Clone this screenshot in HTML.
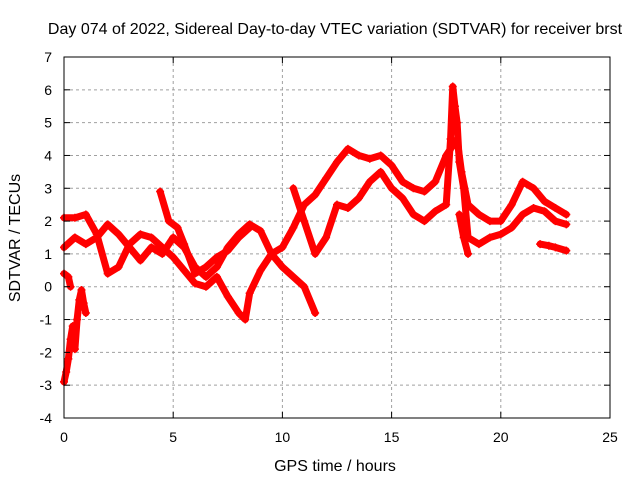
<!DOCTYPE html>
<html><head><meta charset="utf-8"><style>
body{margin:0;background:#fff}
svg{display:block;font-family:"Liberation Sans",sans-serif}
</style></head><body>
<svg id="chart" width="640" height="480">
<text x="335" y="34" font-size="16" text-anchor="middle">Day 074 of 2022, Sidereal Day-to-day VTEC variation (SDTVAR) for receiver brst</text>
<text x="335" y="471" font-size="16" text-anchor="middle">GPS time / hours</text>
<text transform="translate(20,238) rotate(-90)" font-size="16" text-anchor="middle">SDTVAR / TECUs</text>
<g id="grid"></g><g id="marks"></g>
<rect x="64" y="57" width="546" height="361" fill="none" stroke="#000"/>
<g id="ticks"></g>
</svg>
<script>
const xTicks=[0,5,10,15,20,25];
const yTicks=[-4,-3,-2,-1,0,1,2,3,4,5,6,7];
const trackA=[[0,1.2],[0.5,1.5],[1,1.3],[1.5,1.5],[2,1.9],[2.5,1.6],[3,1.2],[3.5,0.8],[4,1.2],[4.5,1.0],[5,1.5],[5.5,1.2],[6,0.6],[6.5,0.3],[7,0.6],[7.5,1.2],[8,1.6],[8.5,1.9],[9,1.7],[9.5,1.0],[10,1.2],[10.5,1.8],[11,2.5],[11.5,2.8],[12,3.3],[12.5,3.8],[13,4.2],[13.5,4.0],[14,3.9],[14.5,4.0],[15,3.7],[15.5,3.2],[16,3.0],[16.5,2.9],[17,3.2],[17.5,4.0],[18,4.5],[18.2,3.5],[18.5,2.5],[19,2.2],[19.5,2.0],[20,2.0],[20.5,2.5],[21,3.2],[21.5,3.0],[22,2.6],[22.5,2.4],[23,2.2]];
const trackB=[[0,-2.9],[0.1,-2.6],[0.2,-2.2],[0.3,-1.6],[0.4,-1.2],[0.5,-1.9],[0.6,-1.0],[0.7,-0.4],[0.8,-0.1],[0.9,-0.5],[1,-0.8]];
const trackC=[[0,2.1],[0.5,2.1],[1,2.2],[1.5,1.6],[2,0.4],[2.5,0.6],[3,1.3],[3.5,1.6],[4,1.5],[4.5,1.2],[5,0.9],[5.5,0.5],[6,0.1],[6.5,0.0],[7,0.3],[7.5,-0.3],[8,-0.8],[8.3,-1.0],[8.5,-0.2],[9,0.5],[9.5,1.0],[10,0.6],[10.5,0.3],[11,0.0],[11.5,-0.8]];
const trackD=[[10.5,3.0],[11,2.0],[11.5,1.0],[12,1.5],[12.5,2.5],[13,2.4],[13.5,2.7],[14,3.2],[14.5,3.5],[15,3.0],[15.5,2.7],[16,2.2],[16.5,2.0],[17,2.3],[17.5,2.5],[17.7,4.5],[17.8,6.1],[17.9,5.5],[18,5.0],[18.1,3.8],[18.3,3.0],[18.5,1.5],[19,1.3],[19.5,1.5],[20,1.6],[20.5,1.8],[21,2.2],[21.5,2.4],[22,2.3],[22.5,2.0],[23,1.9]];
const trackE=[[4.4,2.9],[4.8,2.0],[5.2,1.8],[5.5,1.3],[6,0.4],[6.5,0.6],[7,0.9],[7.5,1.1],[8,1.5],[8.5,1.8]];
const trackF=[[0,0.4],[0.2,0.3],[0.3,0.0]];
const trackG=[[18.1,2.2],[18.3,1.5],[18.5,1.0]];
const trackH=[[21.8,1.3],[22.2,1.25],[22.5,1.2],[23,1.1]];
const series=[trackA,trackB,trackC,trackD,trackE,trackF,trackG,trackH];
const NS="http://www.w3.org/2000/svg";
const X=v=>64+v*546/25, Y=v=>418-(v+4)*361/11;
const grid=document.getElementById('grid'),ticks=document.getElementById('ticks'),marks=document.getElementById('marks');
function mk(tag,attrs,parent){const e=document.createElementNS(NS,tag);for(const k in attrs)e.setAttribute(k,attrs[k]);parent.appendChild(e);return e;}
xTicks.forEach(t=>{const x=X(t);
 if(t>0&&t<25){const g=mk('line',{x1:x,x2:x,y1:57,y2:418,stroke:'#a0a0a0','stroke-dasharray':'3,3'},grid);
 
 }
 mk('line',{x1:x,x2:x,y1:418,y2:412,stroke:'#000'},ticks);mk('line',{x1:x,x2:x,y1:57,y2:63,stroke:'#000'},ticks);
 const l=mk('text',{x:x,y:442,'font-size':14,'text-anchor':'middle'},ticks);l.textContent=t;
 
 });
yTicks.forEach(t=>{const y=Y(t);
 if(t>-4&&t<7){const g=mk('line',{x1:64,x2:610,y1:y,y2:y,stroke:'#a0a0a0','stroke-dasharray':'3,3'},grid);
 
 }
 mk('line',{x1:64,x2:70,y1:y,y2:y,stroke:'#000'},ticks);mk('line',{x1:610,x2:604,y1:y,y2:y,stroke:'#000'},ticks);
 const l=mk('text',{x:52,y:y+5,'font-size':14,'text-anchor':'end'},ticks);l.textContent=t;
 
 });
series.forEach((s,i)=>{
 const p=mk('polyline',{points:s.map(d=>X(d[0])+','+Y(d[1])).join(' '),fill:'none',stroke:'#f00','stroke-width':7,'stroke-linejoin':'round','stroke-linecap':'round'},marks);
 
 
 s.forEach(d=>{const x=X(d[0]),y=Y(d[1]);
  const m=mk('path',{d:`M${x-4},${y}h8M${x},${y-4}v8`,stroke:'#f00','stroke-width':1.5},marks);
  
  });
});
</script>
</body></html>
